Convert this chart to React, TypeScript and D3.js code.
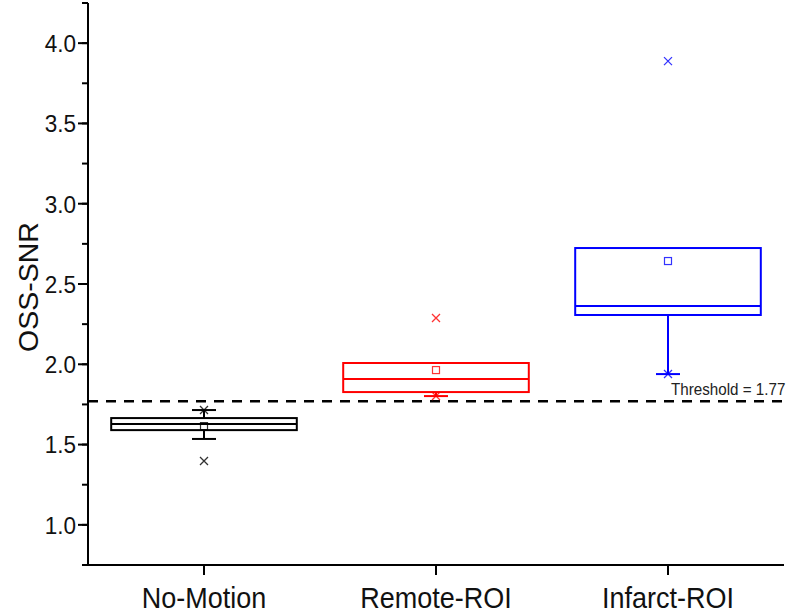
import React from "react";
import * as d3 from "d3";

const categories = ["No-Motion", "Remote-ROI", "Infarct-ROI"];
const colors = ["#000000", "#ff0000", "#0000ff"];
const q1 = [1.59, 1.827, 2.307];
const median = [1.628, 1.908, 2.363];
const q3 = [1.665, 2.008, 2.724];
const mean = [1.615, 1.964, 2.643];
const whiskerLow = [1.535, 1.802, 1.939];
const whiskerHigh = [1.715, 2.008, 2.724];
const lowMark = [null, 1.802, 1.939];
const highMark = [1.715, null, null];
const outliers = [[1.398], [2.288], [3.888]];
const threshold = 1.77;
const yTicks = [1.0, 1.5, 2.0, 2.5, 3.0, 3.5, 4.0];
const yMinorTicks = d3.range(0.75, 4.26, 0.25);

const W = 800;
const H = 613;
const FONT = "'Liberation Sans', Arial, sans-serif";

export default function App() {
  const x = d3.scaleLinear().domain([0.5, 3.5]).range([88, 784]);
  const y = d3.scaleLinear().domain([0.75, 4.25]).range([565, 3]);
  const boxW = 0.8 * (x(2) - x(1));
  const capW = 24;
  const mk = 4;

  return (
    <svg
      width={W}
      height={H}
      style={{ position: "absolute", left: 0, top: 0, background: "#fff" }}
      fontFamily={FONT}
    >
      <rect width={W} height={H} fill="#fff" />
      {/* threshold line */}
      <line
        x1={x(0.5)}
        x2={x(3.5)}
        y1={y(threshold)}
        y2={y(threshold)}
        stroke="#000"
        strokeWidth={2.5}
        strokeDasharray="10,8"
      />
      <g transform={`translate(671,${y(threshold) - 6}) scale(0.95,1)`}>
        <text x={0} y={0} fontSize={16} fill="#222">
          Threshold = {threshold}
        </text>
      </g>

      {categories.map((c, i) => {
        const cx = x(i + 1);
        const col = colors[i];
        return (
          <g key={c}>
            {whiskerLow[i] < q1[i] && (
              <line x1={cx} x2={cx} y1={y(q1[i])} y2={y(whiskerLow[i])} stroke={col} strokeWidth={2} />
            )}
            <line x1={cx - capW / 2} x2={cx + capW / 2} y1={y(whiskerLow[i])} y2={y(whiskerLow[i])} stroke={col} strokeWidth={2} />
            {whiskerHigh[i] > q3[i] && (
              <>
                <line x1={cx} x2={cx} y1={y(q3[i])} y2={y(whiskerHigh[i])} stroke={col} strokeWidth={2} />
                <line x1={cx - capW / 2} x2={cx + capW / 2} y1={y(whiskerHigh[i])} y2={y(whiskerHigh[i])} stroke={col} strokeWidth={2} />
              </>
            )}
            <rect
              x={cx - boxW / 2}
              y={y(q3[i])}
              width={boxW}
              height={y(q1[i]) - y(q3[i])}
              fill="none"
              stroke={col}
              strokeWidth={2}
            />
            <line x1={cx - boxW / 2} x2={cx + boxW / 2} y1={y(median[i])} y2={y(median[i])} stroke={col} strokeWidth={2} />
            <rect x={cx - 3.5} y={y(mean[i]) - 3.5} width={7} height={7} fill="none" stroke={col} strokeWidth={1.2} opacity={0.8} />
            {[lowMark[i], highMark[i], ...outliers[i]]
              .filter((v) => v !== null)
              .map((v, j) => (
                <path
                  key={j}
                  d={`M${cx - mk},${y(v as number) - mk}L${cx + mk},${y(v as number) + mk}M${cx - mk},${y(v as number) + mk}L${cx + mk},${y(v as number) - mk}`}
                  stroke={col}
                  strokeWidth={1.3}
                  opacity={0.8}
                />
              ))}
          </g>
        );
      })}

      {/* y axis */}
      <line x1={88} x2={88} y1={y(4.25)} y2={y(0.75)} stroke="#000" strokeWidth={2} />
      {yMinorTicks.map((t) => (
        <line key={t} x1={82} x2={88} y1={y(t)} y2={y(t)} stroke="#000" strokeWidth={2} />
      ))}
      {yTicks.map((t) => (
        <g key={t}>
          <line x1={78} x2={88} y1={y(t)} y2={y(t)} stroke="#000" strokeWidth={2} />
          <g transform={`translate(76,${y(t)}) scale(0.92,1)`}>
            <text x={0} y={0} dy="0.36em" textAnchor="end" fontSize={24.5} fill="#111">
              {d3.format(".1f")(t)}
            </text>
          </g>
        </g>
      ))}
      <text
        transform={`translate(38,287) rotate(-90)`}
        textAnchor="middle"
        fontSize={28.5}
        fill="#111"
      >
        OSS-SNR
      </text>

      {/* x axis */}
      <line x1={82} x2={784} y1={565} y2={565} stroke="#000" strokeWidth={2} />
      {categories.map((c, i) => (
        <g key={c}>
          <line x1={x(i + 1)} x2={x(i + 1)} y1={565} y2={575} stroke="#000" strokeWidth={2} />
          <g transform={`translate(${x(i + 1)},608) scale(0.9,1)`}>
            <text x={0} y={0} textAnchor="middle" fontSize={30} fill="#111">
              {c}
            </text>
          </g>
        </g>
      ))}
    </svg>
  );
}
